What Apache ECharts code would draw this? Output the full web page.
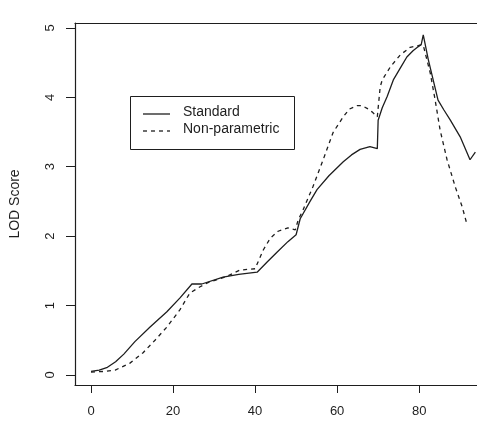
<!DOCTYPE html>
<html lang="en">
<head>
    <meta charset="UTF-8">
    <title>LOD Score</title>
    <script src="https://cdn.jsdelivr.net/npm/echarts@6/dist/echarts.min.js"></script>
    <style>
        body {margin: 0; background: #fff;}
    </style>
</head>
<body>
<div id="main" style="height:438px;width:477px;"></div>
<script type="text/javascript">
    // positions (cM) and LOD values
    var stdX = [0, 2, 4, 6, 8, 10.7, 14.4, 18.5, 21.7, 24.6, 27, 32.2, 36, 40.5, 43, 45.4, 48, 50, 51, 53.4, 55.1, 58, 61.5, 63.5, 65.6, 68, 69.8, 70, 71, 72.2, 73.7, 75.5, 77, 78.5, 79.8, 80.5, 81, 82.2, 84.6, 86, 87.6, 90, 92.4, 93.7];
    var stdY = [0.05, 0.07, 0.11, 0.19, 0.3, 0.48, 0.69, 0.91, 1.11, 1.31, 1.31, 1.41, 1.45, 1.48, 1.63, 1.77, 1.92, 2.02, 2.25, 2.5, 2.67, 2.87, 3.07, 3.17, 3.25, 3.29, 3.26, 3.67, 3.85, 4.01, 4.25, 4.43, 4.58, 4.67, 4.73, 4.76, 4.9, 4.55, 3.96, 3.82, 3.67, 3.43, 3.1, 3.21];
    var npX = [0, 3, 5.9, 9.5, 12.7, 15.6, 18.5, 21.7, 24.1, 26.6, 28.5, 32.7, 36.3, 40, 42, 43.7, 45.6, 48, 49.8, 50.5, 51.7, 54.1, 56.6, 59, 61.5, 63, 64.9, 66, 67.3, 68.5, 69.8, 70.5, 71, 73, 75.4, 77.8, 80.2, 81, 82.7, 83.9, 85.1, 86.8, 88.8, 90.5, 91.7];
    var npY = [0.04, 0.05, 0.07, 0.17, 0.32, 0.5, 0.69, 0.94, 1.18, 1.27, 1.33, 1.41, 1.51, 1.53, 1.8, 1.97, 2.07, 2.12, 2.09, 2.23, 2.38, 2.71, 3.1, 3.49, 3.72, 3.83, 3.88, 3.88, 3.84, 3.79, 3.72, 4.15, 4.25, 4.44, 4.61, 4.72, 4.75, 4.75, 4.35, 3.96, 3.53, 3.1, 2.71, 2.42, 2.16];
    var xTicks = [0, 20, 40, 60, 80];
    var yTicks = [0, 1, 2, 3, 4, 5];
    var seriesNames = ['Standard', 'Non-parametric'];

    function pairs(xs, ys) {
        var out = [];
        for (var i = 0; i < xs.length; i++) {
            out.push([xs[i], ys[i]]);
        }
        return out;
    }

    var myChart = echarts.init(document.getElementById('main'));
    var ink = '#1e1e1e';
    var font = 'Liberation Sans, Arial, sans-serif';

    // legend box drawn by hand (R style)
    var legendBox = [
        {type: 'rect', left: 130, top: 96, shape: {width: 164, height: 53},
            style: {fill: '#fff', stroke: ink, lineWidth: 1}},
        {type: 'line', shape: {x1: 143, y1: 114, x2: 170, y2: 114},
            style: {stroke: ink, lineWidth: 1.3}},
        {type: 'line', shape: {x1: 143, y1: 131, x2: 170, y2: 131},
            style: {stroke: ink, lineWidth: 1.3, lineDash: [4, 4]}},
        {type: 'text', left: 183, top: 105,
            style: {text: seriesNames[0], fill: ink, font: '14px ' + font}},
        {type: 'text', left: 183, top: 122,
            style: {text: seriesNames[1], fill: ink, font: '14px ' + font}}
    ];

    var option = {
        animation: false,
        backgroundColor: '#fff',
        grid: {left: 75, right: 0, top: 23, bottom: 53, outerBoundsMode: 'none'},
        graphic: legendBox,
        xAxis: [{
            type: 'value',
            min: -3.9,
            max: 94.1,
            splitLine: {show: false},
            axisLine: {show: true, onZero: false, lineStyle: {color: ink, width: 1.2}},
            axisTick: {show: true, length: 8, customValues: xTicks, lineStyle: {color: ink}},
            axisLabel: {customValues: xTicks, margin: 20, color: ink, fontSize: 13, fontFamily: font}
        }, {
            type: 'value',
            position: 'top',
            min: -3.9,
            max: 94.1,
            splitLine: {show: false},
            axisLine: {show: true, onZero: false, lineStyle: {color: ink, width: 1.2}},
            axisTick: {show: false},
            axisLabel: {show: false}
        }],
        yAxis: {
            type: 'value',
            min: -0.145,
            max: 5.07,
            name: 'LOD Score',
            nameLocation: 'middle',
            nameRotate: 90,
            nameGap: 53,
            nameTextStyle: {color: ink, fontSize: 14, fontFamily: font},
            splitLine: {show: false},
            axisLine: {show: true, onZero: false, lineStyle: {color: ink, width: 1.2}},
            axisTick: {show: true, length: 9, customValues: yTicks, lineStyle: {color: ink}},
            axisLabel: {customValues: yTicks, rotate: 90, margin: 18, color: ink, fontSize: 13, fontFamily: font}
        },
        series: [
            {
                name: seriesNames[0],
                type: 'line',
                data: pairs(stdX, stdY),
                showSymbol: false,
                symbol: 'none',
                lineStyle: {color: ink, width: 1.3}
            },
            {
                name: seriesNames[1],
                type: 'line',
                data: pairs(npX, npY),
                showSymbol: false,
                symbol: 'none',
                lineStyle: {color: ink, width: 1.3, type: [4, 4]}
            }
        ]
    };
    myChart.setOption(option);
</script>
</body>
</html>
